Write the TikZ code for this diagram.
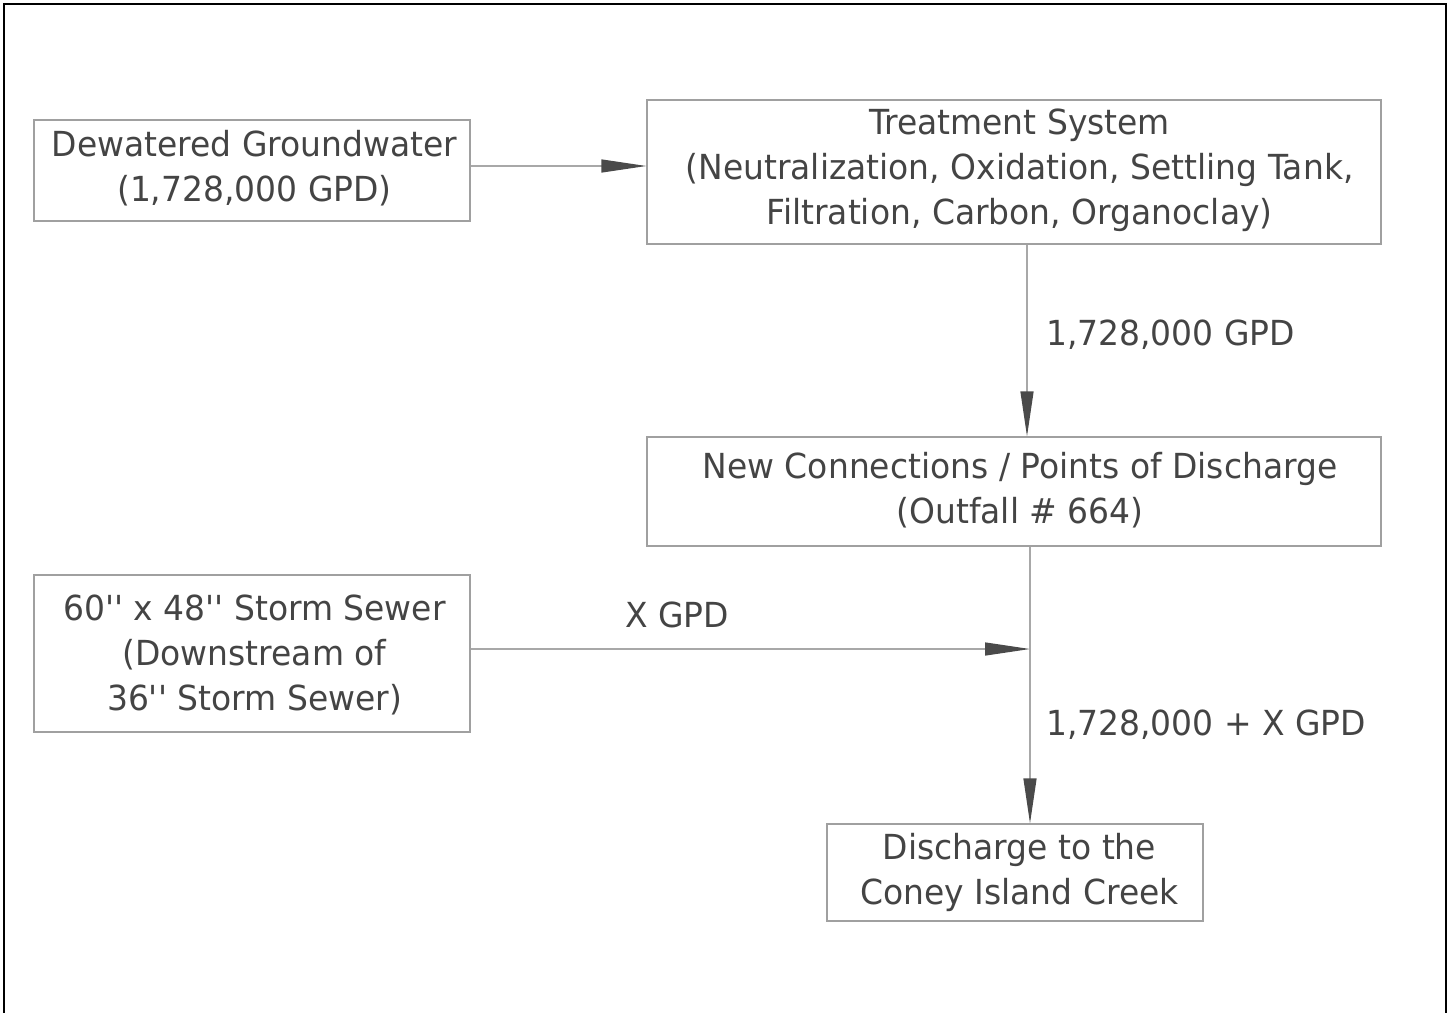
\documentclass[tikz,border=0pt]{standalone}
\usepackage{fontspec}
\setmainfont{DejaVu Sans}[FakeStretch=0.955,Ligatures=TeXOff]
\usetikzlibrary{arrows.meta}
\definecolor{txtgray}{HTML}{444444}
\definecolor{boxgray}{HTML}{A0A0A0}
\definecolor{linegray}{HTML}{A8A8A8}
\definecolor{tipgray}{HTML}{4A4A4A}
\begin{document}
\begin{tikzpicture}[x=1pt,y=-1pt,
  frame/.style={draw=boxgray,line width=1.3pt,inner sep=0pt},
  txt/.style={inner sep=0pt,align=center,text=txtgray,font=\fontsize{34.5}{45}\selectfont},
  lbl/.style={text=txtgray,font=\fontsize{34.5}{45}\selectfont,inner sep=0pt,anchor=west},
  flow/.style={draw=linegray,line width=1.3pt,
    -{Triangle[length=45pt,width=13pt,color=tipgray]}}]
\useasboundingbox (0,0) rectangle (1455,1012);
\draw[line width=2.6pt,black] (4,1020) -- (4,4) -- (1446,4) -- (1446,1020);

\node[frame,minimum width=436pt,minimum height=101pt] (dw) at (252,170.5) {};
\node[txt] (dwt) at (254.5,168) {Dewatered Groundwater\\(1,728,000 GPD)};
\node[frame,minimum width=734pt,minimum height=144pt] (ts) at (1014,172) {};
\node[txt] (tst) at (1019.5,170) {Treatment System\\(Neutralization, Oxidation, Settling Tank,\\Filtration, Carbon, Organoclay)};
\node[frame,minimum width=734pt,minimum height=109pt] (nc) at (1014,491.5) {};
\node[txt] (nct) at (1020,490.5) {New Connections / Points of Discharge\\(Outfall \# 664)};
\node[frame,minimum width=436pt,minimum height=157pt] (ss) at (252,653.5) {};
\node[txt] (sst) at (254.5,655) {60'' x 48'' Storm Sewer\\(Downstream of\\36'' Storm Sewer)};
\node[frame,minimum width=376pt,minimum height=97pt] (dc) at (1015,872.5) {};
\node[txt] (dct) at (1019.5,872) {Discharge to the\\Coney Island Creek};

\coordinate (a) at (1027,0);
\coordinate (b) at (1030,0);
\coordinate (j) at (1030,649);

\draw[flow] (dw.east |- 0,166) -- (ts.west |- 0,166);
\draw[flow] (ts.south -| a) -- (nc.north -| a);
\draw[flow] (ss.east |- j) -- (j);
\draw[flow] (nc.south -| b) -- (dc.north -| b);

\node[lbl] (l1) at (1046,335) {1,728,000 GPD};
\node[lbl] (l2) at (625,615) {X GPD};
\node[lbl] (l3) at (1046,725) {1,728,000 + X GPD};
\end{tikzpicture}
\end{document}
